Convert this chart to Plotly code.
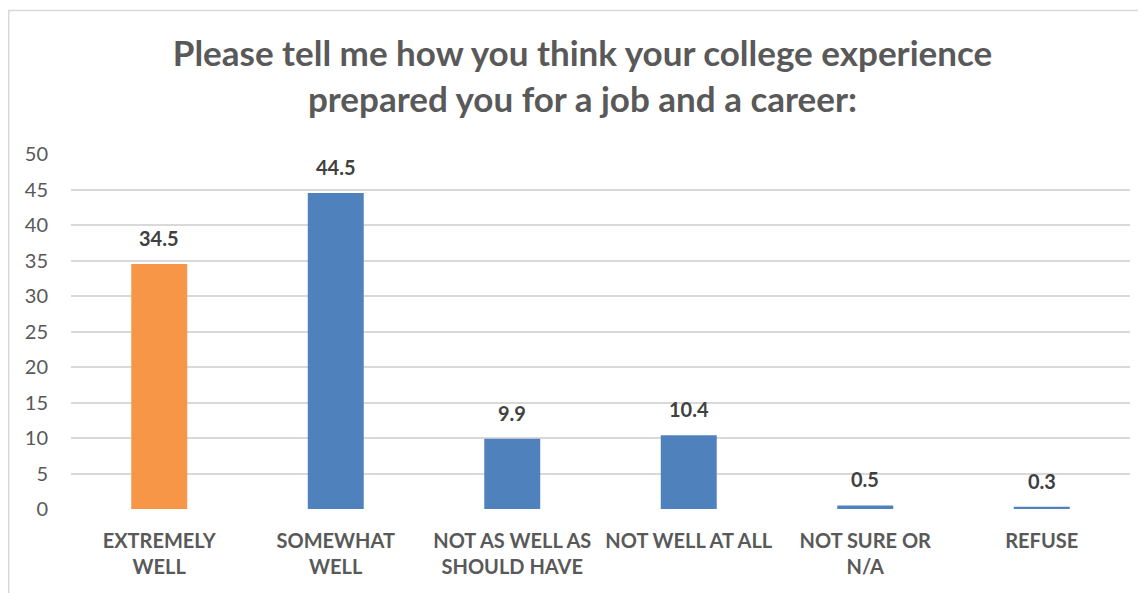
import plotly.graph_objects as go

categories = ["EXTREMELY<br>WELL", "SOMEWHAT<br>WELL", "NOT AS WELL AS<br>SHOULD HAVE",
              "NOT WELL AT ALL", "NOT SURE OR<br>N/A", "REFUSE"]
values = [34.5, 44.5, 9.9, 10.4, 0.5, 0.3]
colors = ["#F79646", "#4F81BD", "#4F81BD", "#4F81BD", "#4F81BD", "#4F81BD"]
y_ticks = [0, 5, 10, 15, 20, 25, 30, 35, 40, 45, 50]
title_text = "Please tell me how you think your college experience<br>prepared you for a job and a career:"

FONT = "Lato"

# plot area in figure pixels
L, R, T, B = 63, 1122, 146, 501
W, H = 1146, 593

fig = go.Figure()
fig.add_trace(go.Bar(
    x=categories, y=values, marker=dict(color=colors, line=dict(width=0)),
    hoverinfo="skip",
))

for c, v in zip(categories, values):
    fig.add_annotation(
        x=c, y=v, xref="x", yref="y", text=f"<b>{v}</b>", showarrow=False,
        yanchor="bottom", yshift=12, font=dict(family=FONT, size=20, color="#404040"),
    )

# chart area border (extends beyond the visible window on the right and bottom)
fig.add_shape(type="rect", xref="paper", yref="paper",
              x0=(0.75 - L) / (R - L), x1=1.2, y0=-0.6, y1=(B - 2.5) / (B - T),
              line=dict(color="#D9D9D9", width=1.5), fillcolor="rgba(0,0,0,0)", layer="below")

fig.update_layout(
    width=W, height=H,
    margin=dict(l=L, r=W - R, t=T, b=H - B),
    paper_bgcolor="white", plot_bgcolor="white",
    bargap=0.683,
    showlegend=False,
    title=dict(text=f"<b>{title_text}</b>", x=574.5 / W, xanchor="center",
               xref="container", yref="container", y=1 - 58 / H, yanchor="top",
               font=dict(family=FONT, size=35, color="#595959")),
    xaxis=dict(showgrid=False, showline=False, zeroline=False,
               ticks="outside", ticklen=14, tickcolor="rgba(0,0,0,0)",
               tickfont=dict(family=FONT, size=20, color="#595959", weight="bold")),
    yaxis=dict(range=[0, 50], tickvals=y_ticks, showgrid=True, gridcolor="#D9D9D9", gridwidth=1.5,
               zeroline=False, showline=False,
               ticks="outside", ticklen=18, tickcolor="rgba(0,0,0,0)",
               tickfont=dict(family=FONT, size=20, color="#595959")),
)

fig.write_html("out.html")
